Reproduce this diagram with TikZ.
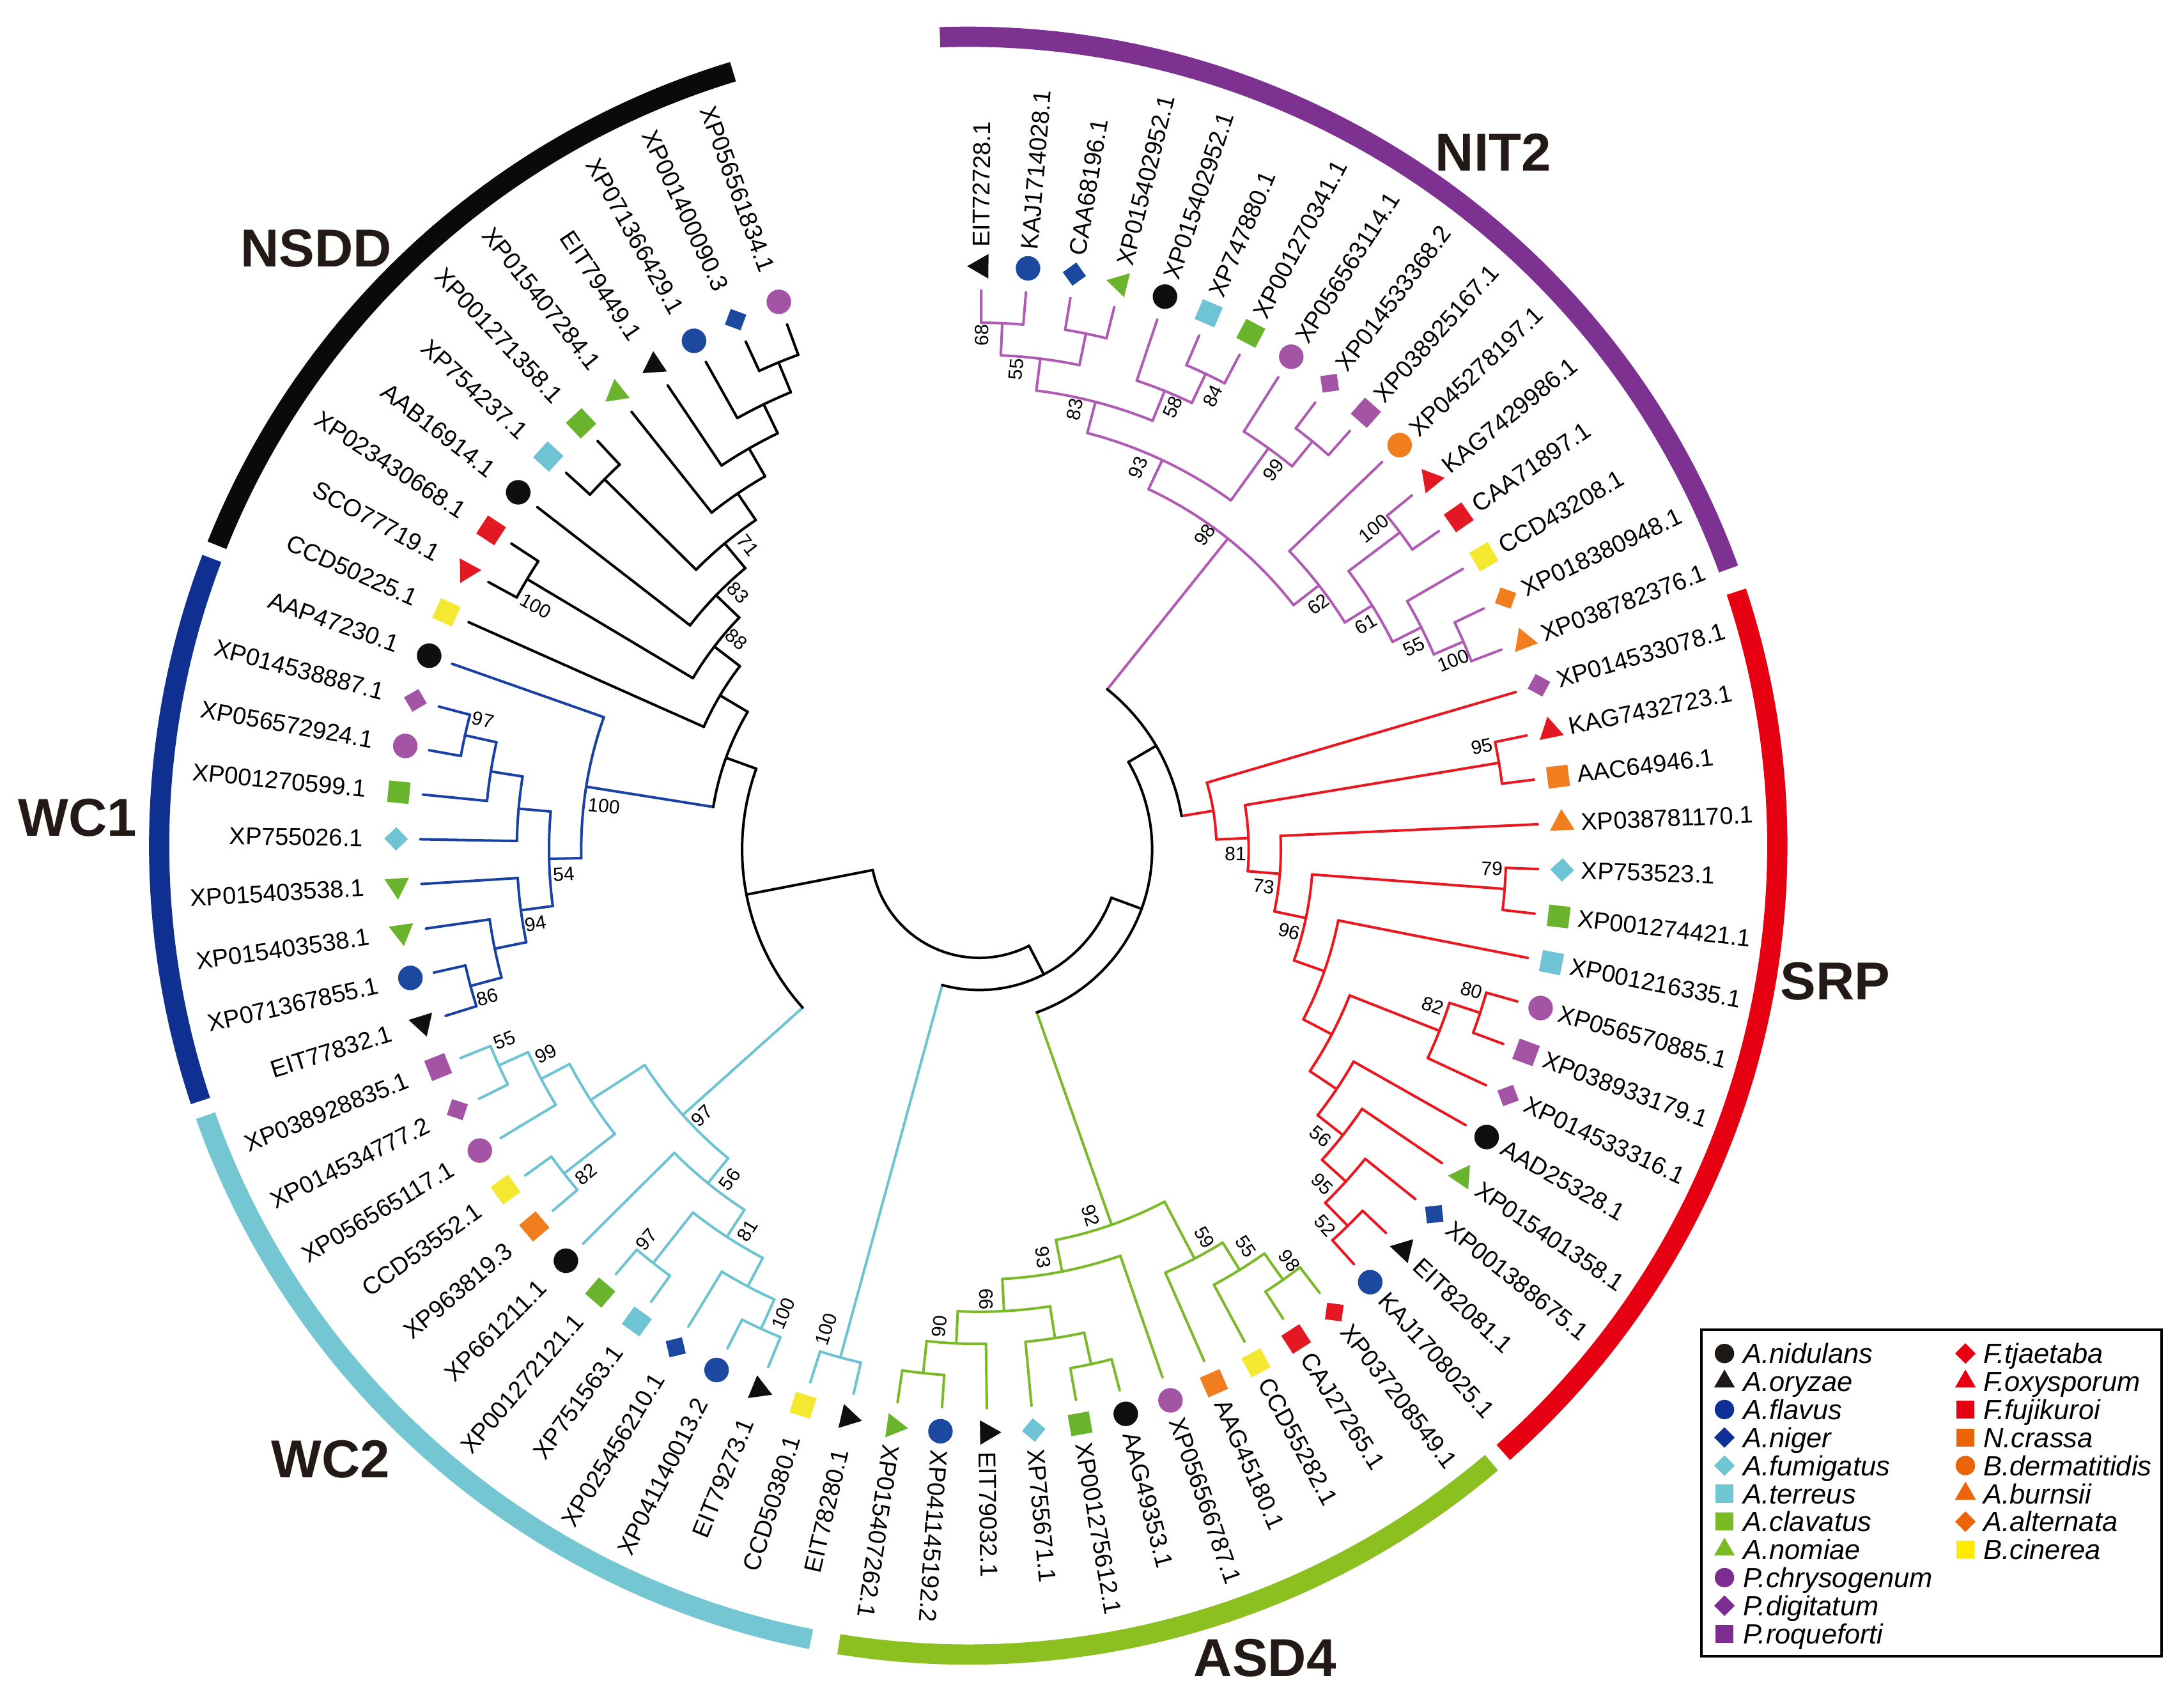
\documentclass[tikz,border=0pt]{standalone}
\usepackage{fontspec}
\setmainfont{Liberation Sans}
\usetikzlibrary{shapes.geometric}
% marker colours
\definecolor{mkblack}{RGB}{15,15,15}
\definecolor{mkblue}{RGB}{28,72,160}
\definecolor{mkcyan}{RGB}{110,196,212}
\definecolor{mkgreen}{RGB}{106,180,45}
\definecolor{mkpurple}{RGB}{163,84,165}
\definecolor{mkred}{RGB}{228,24,34}
\definecolor{mkorange}{RGB}{240,125,30}
\definecolor{mkyellow}{RGB}{245,232,48}
% branch colours
\definecolor{brnit}{RGB}{176,90,180}
\definecolor{brsrp}{RGB}{236,22,30}
\definecolor{brasd}{RGB}{122,186,40}
\definecolor{brwc2}{RGB}{108,196,210}
\definecolor{brwc1}{RGB}{25,65,165}
% ring colours
\definecolor{rgnsdd}{RGB}{10,10,10}
\definecolor{rgnit}{RGB}{125,49,144}
\definecolor{rgsrp}{RGB}{230,0,18}
\definecolor{rgasd}{RGB}{140,192,32}
\definecolor{rgwc2}{RGB}{116,198,211}
\definecolor{rgwc1}{RGB}{16,48,145}
\definecolor{cladetxt}{RGB}{35,25,22}
% legend colours
\definecolor{lgblack}{RGB}{30,25,22}
\definecolor{lgblue}{RGB}{15,48,150}
\definecolor{lgcyan}{RGB}{112,198,210}
\definecolor{lggreen}{RGB}{122,186,36}
\definecolor{lgpurple}{RGB}{125,45,145}
\definecolor{lgred}{RGB}{230,0,18}
\definecolor{lgorange}{RGB}{235,100,10}
\definecolor{lgyellow}{RGB}{255,235,0}

% ---- tree helpers ----
\newcommand\SetNode[4]{% name, child1, child2, depth
  \edef\SNa{\csname a#2\endcsname}\edef\SNb{\csname a#3\endcsname}%
  \pgfmathsetmacro\SNang{(\SNa+\SNb)/2}%
  \pgfmathsetmacro\SNrad{403-23.2*#4}%
  \expandafter\xdef\csname a#1\endcsname{\SNang}%
  \expandafter\xdef\csname r#1\endcsname{\SNrad}%
  \coordinate (#1) at (\SNang:\SNrad);%
}
\newcommand\Edge[4]{% radial colour, arc colour, child, parent
  \edef\EdA{\csname a#3\endcsname}\edef\EdR{\csname r#3\endcsname}%
  \edef\EdPA{\csname a#4\endcsname}\edef\EdPR{\csname r#4\endcsname}%
  \draw[branch,#1] (\EdA:\EdR) -- (\EdA:\EdPR);%
  \draw[branch,#2] (\EdA:\EdPR) arc[start angle=\EdA,end angle=\EdPA,radius=\EdPR];%
}
\newcommand\Clade[5]{\SetNode{#1}{#2}{#3}{#4}\Edge{#5}{#5}{#2}{#1}\Edge{#5}{#5}{#3}{#1}}
\newcommand\JoinNode[6]{\SetNode{#1}{#2}{#3}{#4}\Edge{#5}{black}{#2}{#1}\Edge{#6}{black}{#3}{#1}}
\newcommand\Boot[4]{% node, value, dtheta, dr
  \edef\BtA{\csname a#1\endcsname}\edef\BtR{\csname r#1\endcsname}%
  \pgfmathsetmacro\BtAng{\BtA+#3}%
  \pgfmathsetmacro\BtRad{\BtR+#4}%
  \pgfmathsetmacro\BtRot{ifthenelse(and(\BtAng>-86,\BtAng<95),\BtAng,\BtAng+180)}%
  \node[boot,rotate=\BtRot] (b#1) at (\BtAng:\BtRad) {#2};%
}

\begin{document}
\begin{tikzpicture}[x=0.02cm,y=0.02cm,
  branch/.style={line width=1.05pt,line cap=round},
  ringarc/.style={line width=8.3pt},
  lbl/.style={inner sep=0pt,font=\fontsize{9.96}{11}\selectfont},
  boot/.style={inner sep=0pt,font=\fontsize{7.9}{9}\selectfont},
  cladelbl/.style={inner sep=0pt,text=cladetxt,font=\fontsize{21.9}{26}\selectfont\bfseries},
  lgtxt/.style={inner sep=0pt,font=\fontsize{11.4}{13}\selectfont\itshape},
  mkcirc/.style={circle,minimum size=0.354cm,inner sep=0pt},
  mksq/.style={rectangle,minimum size=0.31cm,inner sep=0pt},
  mkdia/.style={rectangle,minimum size=0.24cm,inner sep=0pt,rotate=45},
  mktri/.style={regular polygon,regular polygon sides=3,minimum size=0.409cm,inner sep=0pt},
  lgcirc/.style={circle,minimum size=0.28cm,inner sep=0pt},
  lgsq/.style={rectangle,minimum size=0.26cm,inner sep=0pt},
  lgdia/.style={rectangle,minimum size=0.21cm,inner sep=0pt,rotate=45},
  lgtri/.style={regular polygon,regular polygon sides=3,minimum size=0.346cm,inner sep=0pt}
]
\useasboundingbox (-706,-618.9) rectangle (862,612.5);

% ---- outer clade rings ----
\begin{scope}[shift={(-8,2.7)}]
\draw[ringarc,rgnsdd] (106.9:583.3) arc[start angle=106.9,end angle=158.2,radius=583.3];
\draw[ringarc,rgwc1] (159.2:583.3) arc[start angle=159.2,end angle=198.4,radius=583.3];
\draw[ringarc,rgwc2] (199.5:583.3) arc[start angle=199.5,end angle=258.8,radius=583.3];
\draw[ringarc,rgasd] (260.8:583.3) arc[start angle=260.8,end angle=310.3,radius=583.3];
\draw[ringarc,rgsrp] (311.4:583.3) arc[start angle=311.4,end angle=378.3,radius=583.3];
\draw[ringarc,rgnit] (20.0:583.3) arc[start angle=20.0,end angle=92.0,radius=583.3];
\end{scope}

% ---- leaf angles ----
\foreach \i in {0,...,74}{%
  \pgfmathsetmacro\LT{89.8-4.5905*\i}%
  \expandafter\xdef\csname aL\i\endcsname{\LT}%
  \expandafter\xdef\csname rL\i\endcsname{403}%
}

% ---- NSDD ----
\Clade{A}{L74}{L73}{1}{black}
\Clade{B}{A}{L72}{2}{black}
\Clade{C}{B}{L71}{3}{black}
\Clade{D}{C}{L70}{4}{black}
\Clade{E}{L69}{L68}{1}{black}
\Clade{F}{D}{E}{5}{black}
\Clade{G}{F}{L67}{6}{black}
\Clade{H}{L66}{L65}{1}{black}
\Clade{I}{G}{H}{7}{black}
\Clade{J}{I}{L64}{8}{black}
% ---- WC1 ----
\Clade{W1}{L62}{L61}{1}{brwc1}
\Clade{W2}{W1}{L60}{2}{brwc1}
\Clade{W3}{W2}{L59}{3}{brwc1}
\Clade{W4}{L56}{L55}{1}{brwc1}
\Clade{W5}{L57}{W4}{2}{brwc1}
\Clade{W6}{L58}{W5}{3}{brwc1}
\Clade{W7}{W3}{W6}{4}{brwc1}
\Clade{W8}{L63}{W7}{5}{brwc1}
\JoinNode{K}{J}{W8}{9}{black}{brwc1}
% ---- WC2 ----
\Clade{Cg}{L54}{L53}{1}{brwc2}
\Clade{Ch}{Cg}{L52}{2}{brwc2}
\Clade{Ci}{L51}{L50}{1}{brwc2}
\Clade{Cj}{Ch}{Ci}{3}{brwc2}
\Clade{Cd}{L48}{L47}{1}{brwc2}
\Clade{Cb}{L45}{L44}{1}{brwc2}
\Clade{Cc}{L46}{Cb}{2}{brwc2}
\Clade{Ce}{Cd}{Cc}{3}{brwc2}
\Clade{Cf}{L49}{Ce}{4}{brwc2}
\Clade{Ck}{Cj}{Cf}{5}{brwc2}
\Clade{Cz}{L43}{L42}{1}{brwc2}
\JoinNode{LL}{K}{Ck}{10}{black}{brwc2}
% ---- NIT2 ----
\Clade{N1}{L0}{L1}{1}{brnit}
\Clade{N2}{L2}{L3}{1}{brnit}
\Clade{N3}{N1}{N2}{2}{brnit}
\Clade{N4}{L5}{L6}{1}{brnit}
\Clade{N5}{L4}{N4}{2}{brnit}
\Clade{N6}{N3}{N5}{3}{brnit}
\Clade{N7}{L8}{L9}{1}{brnit}
\Clade{N8}{L7}{N7}{2}{brnit}
\Clade{N9}{N6}{N8}{4}{brnit}
\Clade{N10}{L11}{L12}{1}{brnit}
\Clade{N11}{L14}{L15}{1}{brnit}
\Clade{N12}{L13}{N11}{2}{brnit}
\Clade{N13}{N10}{N12}{3}{brnit}
\Clade{N14}{L10}{N13}{4}{brnit}
\Clade{N15}{N9}{N14}{5}{brnit}
% ---- SRP ----
\Clade{S52}{L29}{L30}{1}{brsrp}
\Clade{S95}{L28}{S52}{2}{brsrp}
\Clade{S56}{L27}{S95}{3}{brsrp}
\Clade{Saad}{L26}{S56}{4}{brsrp}
\Clade{S80}{L23}{L24}{1}{brsrp}
\Clade{S82}{S80}{L25}{2}{brsrp}
\Clade{Sxa}{S82}{Saad}{5}{brsrp}
\Clade{Sxb}{L22}{Sxa}{6}{brsrp}
\Clade{S79}{L20}{L21}{1}{brsrp}
\Clade{S96}{S79}{Sxb}{7}{brsrp}
\Clade{S73}{L19}{S96}{8}{brsrp}
\Clade{S95b}{L17}{L18}{1}{brsrp}
\Clade{S81}{S95b}{S73}{9}{brsrp}
\Clade{Stop}{L16}{S81}{10}{brsrp}
\JoinNode{R1}{N15}{Stop}{11}{brnit}{brsrp}
% ---- ASD4 ----
\Clade{A1}{L41}{L40}{1}{brasd}
\Clade{A2}{A1}{L39}{2}{brasd}
\Clade{A3}{L37}{L36}{1}{brasd}
\Clade{A4}{L38}{A3}{2}{brasd}
\Clade{A5}{A2}{A4}{3}{brasd}
\Clade{A6}{A5}{L35}{4}{brasd}
\Clade{A7}{L32}{L31}{1}{brasd}
\Clade{A8}{L33}{A7}{2}{brasd}
\Clade{A9}{L34}{A8}{3}{brasd}
\Clade{A10}{A6}{A9}{5}{brasd}
\JoinNode{R2}{R1}{A10}{12}{black}{brasd}
\JoinNode{R3}{R2}{Cz}{13}{black}{brwc2}
\JoinNode{Root}{LL}{R3}{14}{black}{black}

% ---- leaves: markers and labels ----
\foreach \i/\nm/\sh/\co in {
0/EIT72728.1/mktri/mkblack,
1/KAJ1714028.1/mkcirc/mkblue,
2/CAA68196.1/mkdia/mkblue,
3/XP015402952.1/mktri/mkgreen,
4/XP015402952.1/mkcirc/mkblack,
5/XP747880.1/mksq/mkcyan,
6/XP001270341.1/mksq/mkgreen,
7/XP056563114.1/mkcirc/mkpurple,
8/XP014533368.2/mkdia/mkpurple,
9/XP038925167.1/mksq/mkpurple,
10/XP045278197.1/mkcirc/mkorange,
11/KAG7429986.1/mktri/mkred,
12/CAA71897.1/mksq/mkred,
13/CCD43208.1/mksq/mkyellow,
14/XP018380948.1/mkdia/mkorange,
15/XP038782376.1/mktri/mkorange,
16/XP014533078.1/mkdia/mkpurple,
17/KAG7432723.1/mktri/mkred,
18/AAC64946.1/mksq/mkorange,
19/XP038781170.1/mktri/mkorange,
20/XP753523.1/mkdia/mkcyan,
21/XP001274421.1/mksq/mkgreen,
22/XP001216335.1/mksq/mkcyan,
23/XP056570885.1/mkcirc/mkpurple,
24/XP038933179.1/mksq/mkpurple,
25/XP014533316.1/mkdia/mkpurple,
26/AAD25328.1/mkcirc/mkblack,
27/XP015401358.1/mktri/mkgreen,
28/XP001388675.1/mkdia/mkblue,
29/EIT82081.1/mktri/mkblack,
30/KAJ1708025.1/mkcirc/mkblue,
31/XP037208549.1/mkdia/mkred,
32/CAJ27265.1/mksq/mkred,
33/CCD55282.1/mksq/mkyellow,
34/AAG45180.1/mksq/mkorange,
35/XP056566787.1/mkcirc/mkpurple,
36/AAG49353.1/mkcirc/mkblack,
37/XP001275612.1/mksq/mkgreen,
38/XP755671.1/mkdia/mkcyan,
39/EIT79032.1/mktri/mkblack,
40/XP041145192.2/mkcirc/mkblue,
41/XP015407262.1/mktri/mkgreen,
42/EIT78280.1/mktri/mkblack,
43/CCD50380.1/mksq/mkyellow,
44/EIT79273.1/mktri/mkblack,
45/XP041140013.2/mkcirc/mkblue,
46/XP025456210.1/mkdia/mkblue,
47/XP751563.1/mksq/mkcyan,
48/XP001272121.1/mksq/mkgreen,
49/XP661211.1/mkcirc/mkblack,
50/XP963819.3/mksq/mkorange,
51/CCD53552.1/mksq/mkyellow,
52/XP056565117.1/mkcirc/mkpurple,
53/XP014534777.2/mkdia/mkpurple,
54/XP038928835.1/mksq/mkpurple,
55/EIT77832.1/mktri/mkblack,
56/XP071367855.1/mkcirc/mkblue,
57/XP015403538.1/mktri/mkgreen,
58/XP015403538.1/mktri/mkgreen,
59/XP755026.1/mkdia/mkcyan,
60/XP001270599.1/mksq/mkgreen,
61/XP056572924.1/mkcirc/mkpurple,
62/XP014538887.1/mkdia/mkpurple,
63/AAP47230.1/mkcirc/mkblack,
64/CCD50225.1/mksq/mkyellow,
65/SCO77719.1/mktri/mkred,
66/XP023430668.1/mksq/mkred,
67/AAB16914.1/mkcirc/mkblack,
68/XP754237.1/mksq/mkcyan,
69/XP001271358.1/mksq/mkgreen,
70/XP015407284.1/mktri/mkgreen,
71/EIT79449.1/mktri/mkblack,
72/XP071366429.1/mkcirc/mkblue,
73/XP001400090.3/mkdia/mkblue,
74/XP056561834.1/mkcirc/mkpurple}{%
  \pgfmathsetmacro\LAng{89.8-4.5905*\i}%
  \node[\sh,fill=\co,rotate=\LAng] (m\i) at (\LAng:420.5) {};%
  \ifnum\i<42
    \node[lbl,anchor=west,rotate=\LAng] (t\i) at (\LAng:434) {\nm};%
  \else
    \node[lbl,anchor=east,rotate=\LAng+180] (t\i) at (\LAng:444) {\nm};%
  \fi
}

% ---- bootstrap values ----
\Boot{F}{71}{-2.5}{-11.5}
\Boot{G}{83}{-2.8}{-9.6}
\Boot{I}{88}{-3.4}{-9}
\Boot{H}{100}{2.1}{-15}
\Boot{W1}{97}{-2.1}{-10}
\Boot{W8}{100}{2.5}{-14.5}
\Boot{W7}{54}{2.2}{-10}
\Boot{W6}{94}{1.9}{-9}
\Boot{W4}{86}{1.7}{-9.7}
\Boot{Cg}{55}{-2.3}{-11}
\Boot{Ch}{99}{-2.4}{-11}
\Boot{Ci}{82}{1.6}{-12}
\Boot{Ck}{97}{2.0}{-9.6}
\Boot{Cf}{56}{2.0}{-12}
\Boot{Ce}{81}{1.8}{-11.7}
\Boot{Cd}{97}{-2.2}{-10}
\Boot{Cb}{100}{1.6}{-16.5}
\Boot{Cz}{100}{-2.4}{-16.6}
\Boot{A10}{92}{-2.5}{-11}
\Boot{A6}{93}{-2.2}{-12.5}
\Boot{A5}{99}{-2.2}{-9}
\Boot{A2}{90}{-2.1}{-11.4}
\Boot{A9}{59}{2.4}{-10}
\Boot{A8}{55}{2.1}{-11.6}
\Boot{A7}{98}{1.8}{-8.4}
\Boot{S95b}{95}{2.1}{-10}
\Boot{S81}{81}{-3.4}{-9.5}
\Boot{S73}{73}{-2.8}{-10.7}
\Boot{S96}{96}{-2.9}{-9.4}
\Boot{S79}{79}{2.15}{-10}
\Boot{S80}{80}{2.1}{-10.5}
\Boot{S82}{82}{2.5}{-10.6}
\Boot{S56}{56}{-1.9}{-12}
\Boot{S95}{95}{-2.1}{-11}
\Boot{S52}{52}{-1.8}{-11.3}
\Boot{N1}{68}{2.2}{-9}
\Boot{N3}{55}{2.7}{-9.2}
\Boot{N6}{83}{2.3}{-8.6}
\Boot{N5}{58}{-1.6}{-8.4}
\Boot{N4}{84}{-1.8}{-12}
\Boot{N9}{93}{2.6}{-12}
\Boot{N8}{99}{-2.0}{-10.4}
\Boot{N15}{98}{3.0}{-8}
\Boot{N10}{100}{2.1}{-13}
\Boot{N14}{62}{-2.0}{-8.5}
\Boot{N13}{61}{-1.6}{-10.8}
\Boot{N12}{55}{-1.7}{-11}
\Boot{N11}{100}{-1.5}{-12}

% ---- clade names ----
\node[cladelbl] (cNSDD) at (-478,433.5) {NSDD};
\node[cladelbl] (cNIT) at (370.5,502.5) {NIT2};
\node[cladelbl] (cSRP) at (617,-95) {SRP};
\node[cladelbl] (cASD) at (206,-583.2) {ASD4};
\node[cladelbl] (cWCb) at (-467.5,-439.9) {WC2};
\node[cladelbl] (cWCa) at (-650,23) {WC1};

% ---- legend ----
\draw[line width=1pt] (520.6,-346.5) rectangle (852.4,-581.9);
\foreach \k/\sh/\co/\tx in {
0/lgcirc/lgblack/A.nidulans,
1/lgtri/lgblack/A.oryzae,
2/lgcirc/lgblue/A.flavus,
3/lgdia/lgblue/A.niger,
4/lgdia/lgcyan/A.fumigatus,
5/lgsq/lgcyan/A.terreus,
6/lgsq/lggreen/A.clavatus,
7/lgtri/lggreen/A.nomiae,
8/lgcirc/lgpurple/P.chrysogenum,
9/lgdia/lgpurple/P.digitatum,
10/lgsq/lgpurple/P.roqueforti}{%
  \pgfmathsetmacro\yy{-363.5-20.2*\k}%
  \node[\sh,fill=\co] (lm\k) at (537.2,\yy) {};%
  \node[lgtxt,anchor=base west] (lt\k) at (550.4,\yy-7.2) {\tx};%
}
\foreach \k/\sh/\co/\tx in {
0/lgdia/lgred/F.tjaetaba,
1/lgtri/lgred/F.oxysporum,
2/lgsq/lgred/F.fujikuroi,
3/lgsq/lgorange/N.crassa,
4/lgcirc/lgorange/B.dermatitidis,
5/lgtri/lgorange/A.burnsii,
6/lgdia/lgorange/A.alternata,
7/lgsq/lgyellow/B.cinerea}{%
  \pgfmathsetmacro\yy{-363.5-20.2*\k}%
  \node[\sh,fill=\co] (rm\k) at (710.9,\yy) {};%
  \node[lgtxt,anchor=base west] (rt\k) at (723.5,\yy-7.2) {\tx};%
}
\end{tikzpicture}
\end{document}
